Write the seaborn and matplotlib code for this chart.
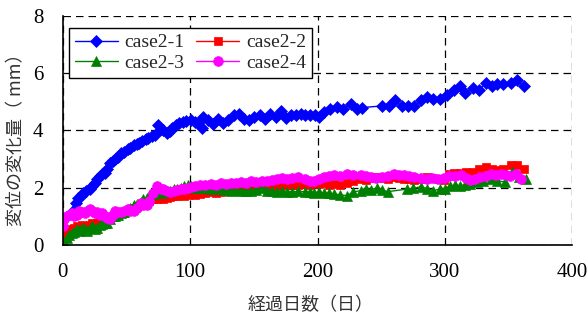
import matplotlib
matplotlib.use("Agg")
import matplotlib.pyplot as plt
import seaborn as sns
import pandas as pd

# ---- data ----
days_21 = [8, 10, 12, 14, 16, 18, 21, 23, 25, 27,
           29, 31, 33, 35, 37, 39, 41, 43, 46, 48,
           51, 53, 56, 58, 60, 62, 65, 67, 70, 72,
           75, 77, 79, 82, 84, 86, 89, 91, 94, 97,
           101, 104, 106, 109, 110, 114, 118, 122, 126, 130,
           134, 138, 142, 146, 150, 155, 159, 163, 167, 171,
           175, 179, 183, 187, 190, 194, 198, 201, 205, 210,
           215, 220, 226, 231, 235, 251, 256, 261, 266, 271,
           276, 281, 286, 291, 296, 302, 307, 312, 316, 322,
           327, 332, 337, 341, 346, 352, 357, 362]
vals_21 = [1.2, 1.45, 1.65, 1.72, 1.8, 1.88, 1.97, 2.05, 2.15, 2.3,
           2.42, 2.47, 2.5, 2.65, 2.85, 2.92, 3.0, 3.08, 3.2, 3.26,
           3.35, 3.4, 3.48, 3.52, 3.58, 3.62, 3.7, 3.72, 3.8, 3.85,
           4.18, 4.05, 4.0, 3.92, 3.98, 4.07, 4.2, 4.25, 4.3, 4.32,
           4.36, 4.3, 4.25, 4.1, 4.47, 4.38, 4.24, 4.41, 4.26, 4.36,
           4.53, 4.59, 4.41, 4.36, 4.47, 4.53, 4.41, 4.59, 4.47, 4.68,
           4.42, 4.55, 4.53, 4.56, 4.55, 4.55, 4.53, 4.47, 4.65, 4.76,
           4.82, 4.74, 4.94, 4.75, 4.8, 4.86, 4.84, 5.05, 4.84, 4.84,
           4.84, 5.05, 5.17, 5.11, 5.11, 5.23, 5.42, 5.57, 5.3, 5.5,
           5.4, 5.66, 5.54, 5.61, 5.63, 5.66, 5.75, 5.54]

days_22 = [0, 1, 3, 5, 7, 9, 11, 13, 15, 17,
           19, 21, 23, 25, 27, 29, 31, 33, 35, 37,
           39, 41, 43, 46, 48, 51, 53, 56, 58, 61,
           63, 66, 68, 71, 74, 77, 79, 82, 84, 87,
           90, 93, 95, 98, 101, 104, 108, 112, 116, 120,
           124, 128, 132, 136, 140, 144, 148, 152, 156, 160,
           164, 168, 172, 176, 180, 185, 190, 194, 197, 201,
           205, 209, 213, 218, 223, 228, 234, 238, 242, 246,
           251, 255, 260, 264, 268, 272, 276, 281, 286, 290,
           295, 299, 303, 307, 312, 317, 322, 327, 332, 337,
           341, 346, 352, 357, 362]
vals_22 = [0.15, 0.35, 0.5, 0.45, 0.55, 0.6, 0.65, 0.6, 0.7, 0.65,
           0.6, 0.7, 0.75, 0.7, 0.75, 0.8, 0.85, 0.85, 0.9, 0.95,
           1.0, 1.0, 1.05, 1.1, 1.12, 1.2, 1.25, 1.3, 1.35, 1.4,
           1.45, 1.5, 1.55, 1.6, 1.62, 1.65, 1.6, 1.65, 1.68, 1.7,
           1.72, 1.75, 1.72, 1.75, 1.78, 1.75, 1.78, 1.82, 1.85, 1.83,
           1.85, 1.88, 1.9, 1.92, 1.93, 1.95, 1.97, 2.0, 2.02, 2.03,
           2.05, 2.05, 2.08, 2.1, 2.08, 2.1, 2.12, 2.1, 2.15, 2.12,
           2.15, 2.1, 2.12, 2.09, 2.15, 2.22, 2.3, 2.28, 2.35, 2.38,
           2.34, 2.32, 2.36, 2.35, 2.32, 2.3, 2.26, 2.3, 2.38, 2.35,
           2.32, 2.27, 2.47, 2.5, 2.52, 2.55, 2.55, 2.67, 2.73, 2.65,
           2.62, 2.67, 2.79, 2.79, 2.67]

days_23 = [0, 1, 3, 5, 7, 9, 11, 13, 15, 17,
           19, 21, 23, 25, 27, 29, 31, 33, 35, 37,
           39, 41, 43, 46, 48, 51, 53, 56, 58, 61,
           63, 66, 68, 71, 74, 77, 79, 82, 84, 87,
           90, 93, 95, 98, 101, 104, 108, 112, 116, 120,
           124, 128, 132, 136, 140, 144, 148, 152, 156, 160,
           164, 168, 172, 176, 180, 185, 190, 194, 197, 201,
           205, 209, 213, 218, 223, 228, 234, 238, 242, 247,
           251, 255, 270, 275, 281, 286, 291, 296, 300, 304,
           308, 312, 316, 320, 325, 330, 336, 341, 347, 353,
           358, 364]
vals_23 = [0.0, 0.1, 0.25, 0.35, 0.4, 0.45, 0.55, 0.5, 0.6, 0.55,
           0.5, 0.6, 0.65, 0.55, 0.6, 0.7, 0.72, 0.75, 0.75, 0.9,
           1.0, 1.02, 1.05, 1.1, 1.15, 1.25, 1.3, 1.38, 1.42, 1.5,
           1.6, 1.65, 1.72, 1.78, 1.8, 1.82, 1.85, 1.88, 1.9, 1.95,
           1.95, 2.0, 2.05, 2.1, 2.05, 2.0, 1.98, 2.0, 1.97, 1.95,
           1.97, 1.92, 1.9, 1.92, 1.9, 1.88, 1.9, 1.92, 2.0, 1.9,
           1.88, 1.86, 1.9, 1.86, 1.85, 1.88, 1.85, 1.86, 1.82, 1.85,
           1.8, 1.82, 1.78, 1.75, 1.72, 1.85, 1.9, 1.95, 1.93, 2.0,
           1.92, 1.86, 1.95, 1.98, 2.03, 1.97, 1.9, 1.95, 1.97, 2.05,
           2.1, 2.07, 2.1, 2.12, 2.2, 2.25, 2.32, 2.25, 2.2, 2.55,
           2.38, 2.32]

days_24 = [0, 1, 3, 5, 7, 9, 11, 13, 15, 17,
           19, 21, 23, 25, 27, 29, 31, 33, 35, 37,
           39, 41, 43, 46, 48, 51, 53, 56, 58, 61,
           63, 66, 68, 71, 74, 77, 79, 82, 84, 87,
           90, 93, 95, 98, 101, 104, 108, 112, 116, 120,
           124, 128, 132, 136, 140, 144, 148, 152, 156, 160,
           164, 168, 172, 176, 180, 185, 190, 194, 197, 201,
           205, 209, 213, 218, 223, 228, 234, 238, 242, 246,
           251, 255, 260, 264, 268, 272, 276, 281, 286, 290,
           295, 299, 303, 308, 313, 317, 320, 324, 328, 332,
           336, 340, 344, 348, 351, 356, 360]
vals_24 = [0.65, 0.9, 1.0, 1.05, 1.1, 1.0, 1.05, 1.2, 1.15, 1.1,
           1.18, 1.25, 1.2, 1.1, 1.15, 1.05, 1.1, 1.0, 0.95, 0.9,
           1.05, 1.2, 1.15, 1.15, 1.2, 1.25, 1.2, 1.2, 1.3, 1.45,
           1.4, 1.4, 1.55, 1.8, 2.05, 1.95, 1.95, 1.9, 1.85, 1.9,
           1.92, 1.95, 1.97, 2.0, 2.03, 2.05, 2.08, 2.1, 2.12, 2.1,
           2.15, 2.12, 2.15, 2.18, 2.2, 2.17, 2.22, 2.2, 2.25, 2.22,
           2.28, 2.3, 2.33, 2.3, 2.35, 2.38, 2.3, 2.25, 2.22, 2.3,
           2.38, 2.4, 2.44, 2.42, 2.47, 2.45, 2.44, 2.4, 2.36, 2.35,
           2.38, 2.42, 2.47, 2.45, 2.44, 2.4, 2.38, 2.35, 2.32, 2.33,
           2.32, 2.35, 2.4, 2.42, 2.44, 2.35, 2.26, 2.3, 2.38, 2.42,
           2.47, 2.45, 2.47, 2.43, 2.4, 2.47, 2.32]

series_names = ["case2-1", "case2-2", "case2-3", "case2-4"]
series_days = [days_21, days_22, days_23, days_24]
series_vals = [vals_21, vals_22, vals_23, vals_24]
colors = ["#0000FF", "#FF0000", "#008000", "#FF00FF"]
markers = ["D", "s", "^", "o"]
msizes = [6, 6, 7, 7]

xticks = [0, 100, 200, 300, 400]
yticks = [0, 2, 4, 6, 8]
xlabel = "経過日数（日）"
ylabel = "変位の変化量（ mm）"

# ---- plot ----
sns.set_style("white")
plt.rcParams["font.family"] = ["Liberation Serif", "DejaVu Serif"]

fig = plt.figure(figsize=(5.88, 3.21), dpi=100)
ax = fig.add_axes([0.107, 0.237, 0.866, 0.713])

handles = {}
for name, d, v, c, m, ms in zip(series_names, series_days, series_vals,
                                colors, markers, msizes):
    df = pd.DataFrame({"day": d, "val": v})
    sns.lineplot(data=df, x="day", y="val", ax=ax, color=c, marker=m,
                 markersize=ms, markeredgecolor=c, markeredgewidth=0.5,
                 linewidth=1.0, estimator=None, sort=False, label=name,
                 legend=False)
    handles[name] = ax.lines[-1]

ax.set_xlim(0, 400)
ax.set_ylim(0, 8)
ax.set_xticks(xticks)
ax.set_yticks(yticks)
ax.tick_params(axis="both", direction="in", length=4, width=1,
               labelsize=15, color="black", labelcolor="black")
ax.tick_params(axis="x", pad=13)
ax.tick_params(axis="y", pad=14)

ax.grid(True, color="black", linestyle=(0, (6, 4)), linewidth=0.9)
ax.set_axisbelow(True)
for s in ["top", "right"]:
    ax.spines[s].set_visible(False)
for s in ["left", "bottom"]:
    ax.spines[s].set_color("black")
    ax.spines[s].set_linewidth(1.2)

cjk = ["Noto Sans CJK JP", "DejaVu Sans"]
ax.set_xlabel(xlabel, fontsize=13, family=cjk, color="#333333")
ax.set_ylabel(ylabel, fontsize=13, family=cjk, color="#333333")
ax.xaxis.set_label_coords(0.486, -0.225)
ax.yaxis.set_label_coords(-0.073, 0.478)

order = ["case2-1", "case2-3", "case2-2", "case2-4"]
leg = ax.legend([handles[n] for n in order], order, ncol=2,
                loc="upper left", bbox_to_anchor=(0.012, 0.948),
                borderaxespad=0, fontsize=14, handlelength=2.2,
                handletextpad=0.35, columnspacing=0.6, labelspacing=0.15,
                borderpad=0.3, frameon=True, fancybox=False, framealpha=1)
leg.get_frame().set_edgecolor("black")
leg.get_frame().set_linewidth(1.0)

fig.savefig("out.png", dpi=100)
